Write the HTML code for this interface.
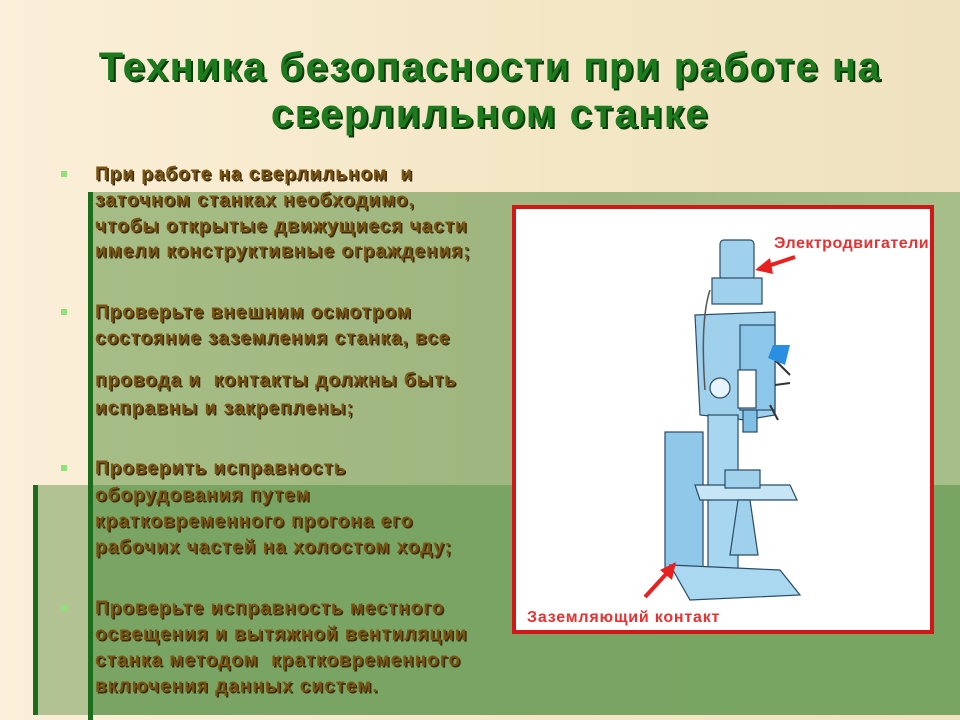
<!DOCTYPE html>
<html><head><meta charset="utf-8"><style>
body{margin:0;width:960px;height:720px;overflow:hidden;position:relative;background:linear-gradient(90deg,#fbefd9 0%,#f3e6c4 60%,#efe2c0 100%);font-family:"Liberation Sans",sans-serif}
.abs{position:absolute}
.t{position:absolute;left:0;width:980px;text-align:center;font-weight:bold;font-size:40px;letter-spacing:1.5px;color:#1d7a1d;text-shadow:2px 2px 0 #0b3a0b;line-height:47px}
.p{position:absolute;left:95px;font-weight:bold;font-size:19px;letter-spacing:1px;color:#7a5512;text-shadow:1.5px 1.5px 0 #3a2a08;white-space:nowrap}
.b{position:absolute;left:61px;width:6px;height:6px;background:#8fe27a}
</style></head><body>
<div class="t" style="top:44px">Техника безопасности при работе на</div>
<div class="t" style="top:91px">сверлильном станке</div>
<div class="abs" style="left:88px;top:192px;width:872px;height:293px;background:linear-gradient(90deg,#a7bd86,#9db47e 60%,#a6bf88)"></div>
<div class="abs" style="left:88px;top:192px;width:5px;height:528px;background:#1b6d1b"></div>
<div class="abs" style="left:33px;top:485px;width:927px;height:230px;background:linear-gradient(90deg,#b3c293 0,#b3c293 55px,#7aa464 60px,#79a563 100%)"></div>
<div class="abs" style="left:33px;top:485px;width:5px;height:230px;background:#1b6d1b"></div>
<div class="abs" style="left:88px;top:485px;width:5px;height:235px;background:#1b6d1b"></div>
<div class="b" style="top:171px"></div><div class="b" style="top:309px"></div><div class="b" style="top:465px"></div><div class="b" style="top:605px"></div>
<div class="p" style="top:164px">При работе на сверлильном&nbsp; и</div>
<div class="p" style="top:190px">заточном станках необходимо,</div>
<div class="p" style="top:216px">чтобы открытые движущиеся части</div>
<div class="p" style="top:241px">имели конструктивные ограждения;</div>
<div class="p" style="top:302px">Проверьте внешним осмотром</div>
<div class="p" style="top:328px">состояние заземления станка, все</div>
<div class="p" style="top:370px">провода и&nbsp; контакты должны быть</div>
<div class="p" style="top:398px">исправны и закреплены;</div>
<div class="p" style="top:458px">Проверить исправность</div>
<div class="p" style="top:485px">оборудования путем</div>
<div class="p" style="top:511px">кратковременного прогона его</div>
<div class="p" style="top:537px">рабочих частей на холостом ходу;</div>
<div class="p" style="top:598px">Проверьте исправность местного</div>
<div class="p" style="top:624px">освещения и вытяжной вентиляции</div>
<div class="p" style="top:650px">станка методом&nbsp; кратковременного</div>
<div class="p" style="top:676px">включения данных систем.</div>
<div class="abs" style="left:512px;top:205px;width:414px;height:421px;border:4px solid #d01818;background:#fff;overflow:hidden">
<svg width="414" height="421" viewBox="516 209 414 421" style="position:absolute;left:0;top:0">
<g stroke="#2a4a66" stroke-width="1.2" fill="#9fd0ec">
<rect x="720" y="240" width="34" height="40" rx="4"/>
<rect x="712" y="278" width="50" height="26"/>
<path d="M695 315 L775 312 L775 415 L745 420 L700 415 Z"/>
<rect x="740" y="325" width="35" height="85" fill="#8cc6e8"/>
<rect x="708" y="415" width="30" height="170" fill="#a7d6f0"/>
<rect x="665" y="432" width="38" height="140" fill="#8fc8e8"/>
<path d="M695 485 L790 485 L797 500 L700 500 Z" fill="#c6e6f6"/>
<rect x="725" y="470" width="35" height="18"/>
<path d="M738 500 L750 500 L758 555 L730 555 Z"/>
<path d="M670 565 L780 570 L800 595 L690 600 Z" fill="#aad8f0"/>
<rect x="743" y="410" width="14" height="22" fill="#7fbfe4"/>
<rect x="738" y="370" width="18" height="38" fill="#fff"/>
<circle cx="720" cy="388" r="10" fill="#e8f4fb"/>
</g>
<g stroke="#333" stroke-width="2"><line x1="775" y1="360" x2="790" y2="375"/><line x1="775" y1="385" x2="790" y2="383"/><line x1="770" y1="405" x2="778" y2="420"/></g>
<path d="M768 358 L773 345 L790 345 L785 365 Z" fill="#2a8fe0"/>
<path d="M710 290 Q700 320 705 390" stroke="#555" fill="none" stroke-width="1.5"/>
<text x="774" y="248" font-family="Liberation Sans,sans-serif" font-weight="bold" font-size="16" letter-spacing="0.5" fill="#e83030">Электродвигатели</text>
<text x="527" y="622" font-family="Liberation Sans,sans-serif" font-weight="bold" font-size="16" letter-spacing="0.8" fill="#e83030">Заземляющий контакт</text>
<path d="M795 257 L768 266" stroke="#e82020" stroke-width="4"/><path d="M755 270 L770 258 L773 274 Z" fill="#e82020"/>
<path d="M645 597 L668 572" stroke="#e82020" stroke-width="4"/><path d="M676 562 L672 580 L660 570 Z" fill="#e82020"/>
</svg></div>
</body></html>
